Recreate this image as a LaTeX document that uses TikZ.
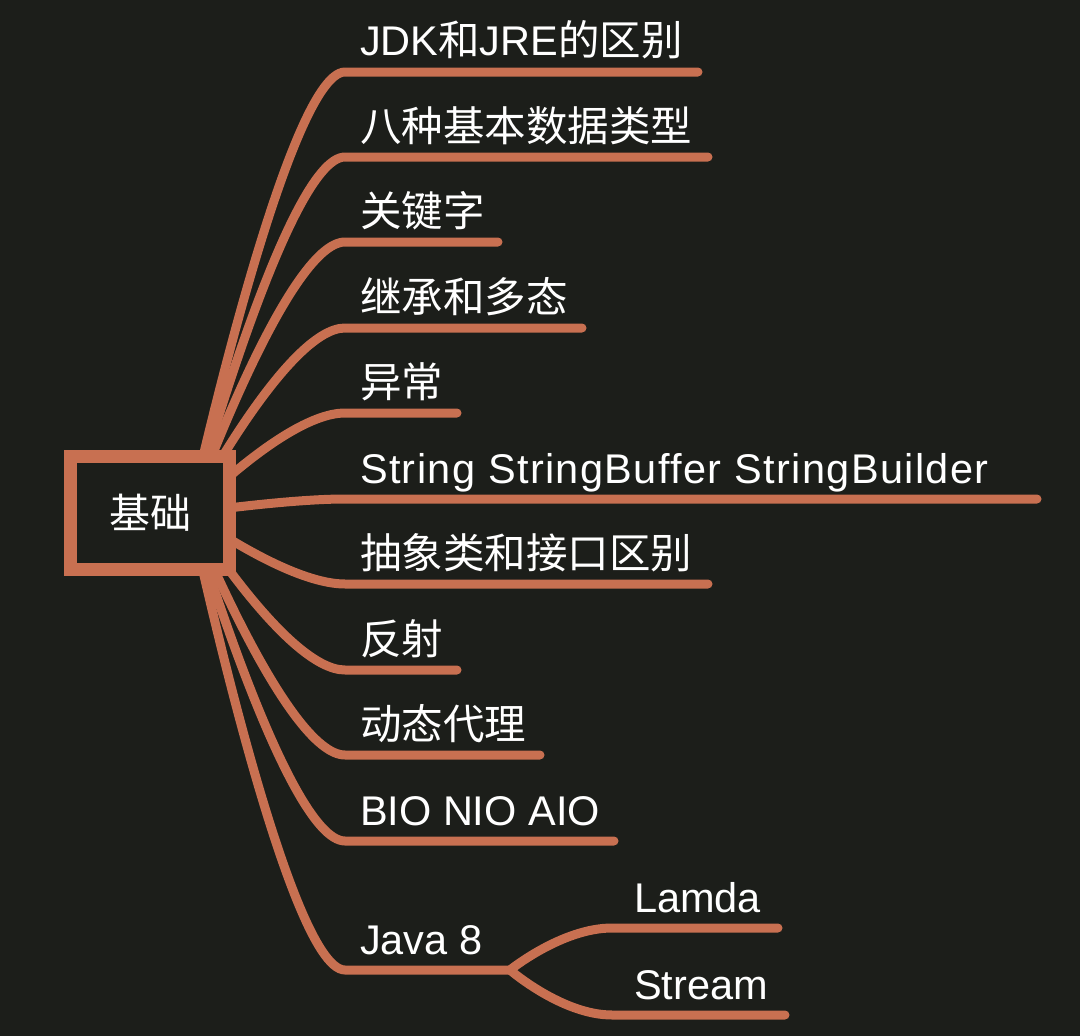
\documentclass[tikz,border=0pt]{standalone}
\usepackage{fontspec}
\setmainfont{Liberation Sans}
\newfontfamily\cjk{Noto Sans CJK SC}
\definecolor{bg}{RGB}{28,30,26}
\definecolor{br}{RGB}{200,112,81}
\begin{document}
\begin{tikzpicture}[x=1pt,y=-1pt,
  branch/.style={draw=br,line width=9pt,line cap=round},
  lbl/.style={anchor=base west,inner sep=0pt,outer sep=0pt,text=white,font=\fontsize{41.5}{48}\selectfont}]
\fill[bg] (0,0) rectangle (1080,1036);
\useasboundingbox (0,0) rectangle (1080,1036);
\coordinate (o) at (190,513);
% branch ends
\coordinate (e1) at (345,72);   \coordinate (t1) at (698,72);
\coordinate (e2) at (345,157);  \coordinate (t2) at (708,157);
\coordinate (e3) at (345,242);  \coordinate (t3) at (498,242);
\coordinate (e4) at (345,328);  \coordinate (t4) at (582,328);
\coordinate (e5) at (345,413);  \coordinate (t5) at (457,413);
\coordinate (e6) at (345,499);  \coordinate (t6) at (1037,499);
\coordinate (e7) at (345,584);  \coordinate (t7) at (708,584);
\coordinate (e8) at (345,670);  \coordinate (t8) at (457,670);
\coordinate (e9) at (345,755);  \coordinate (t9) at (540,755);
\coordinate (e10) at (345,841); \coordinate (t10) at (614,841);
\coordinate (e11) at (345,970); \coordinate (t11) at (510,970);
\coordinate (e12) at (612,928); \coordinate (t12) at (778,928);
\coordinate (e13) at (612,1015);\coordinate (t13) at (785,1015);
\foreach \i/\y in {1/72,2/157,3/242,4/328,5/413,6/499,7/584,8/670,9/755,10/841,11/970}{
  \draw[branch] (o) .. controls (o) and (287,\y) .. (e\i) -- (t\i);
}
\draw[branch] (t11) .. controls (t11) and (562,928) .. (e12) -- (t12);
\draw[branch] (t11) .. controls (t11) and (562,1015) .. (e13) -- (t13);
% root
\node[draw=br,line width=13pt,fill=bg,minimum width=159pt,minimum height=113pt,inner sep=0pt,text=white,font=\fontsize{41}{48}\selectfont\cjk] (root) at (150,513) {基础};
% labels
\node[lbl] (n1) at (360,56) {JDK{\cjk 和}JRE{\cjk 的区别}};
\node[lbl] (n2) at (360,141) {\cjk 八种基本数据类型};
\node[lbl] (n3) at (360,226) {\cjk 关键字};
\node[lbl] (n4) at (360,312) {\cjk 继承和多态};
\node[lbl] (n5) at (360,397) {\cjk 异常};
\node[lbl] (n6) at (360,483) {\addfontfeature{LetterSpace=3.3}String StringBuffer StringBuilder};
\node[lbl] (n7) at (360,568) {\cjk 抽象类和接口区别};
\node[lbl] (n8) at (360,654) {\cjk 反射};
\node[lbl] (n9) at (360,739) {\cjk 动态代理};
\node[lbl] (n10) at (360,825) {BIO NIO AIO};
\node[lbl] (n11) at (360,954) {Java 8};
\node[lbl] (n12) at (634,912) {Lamda};
\node[lbl] (n13) at (634,999) {Stream};
\end{tikzpicture}
\end{document}
